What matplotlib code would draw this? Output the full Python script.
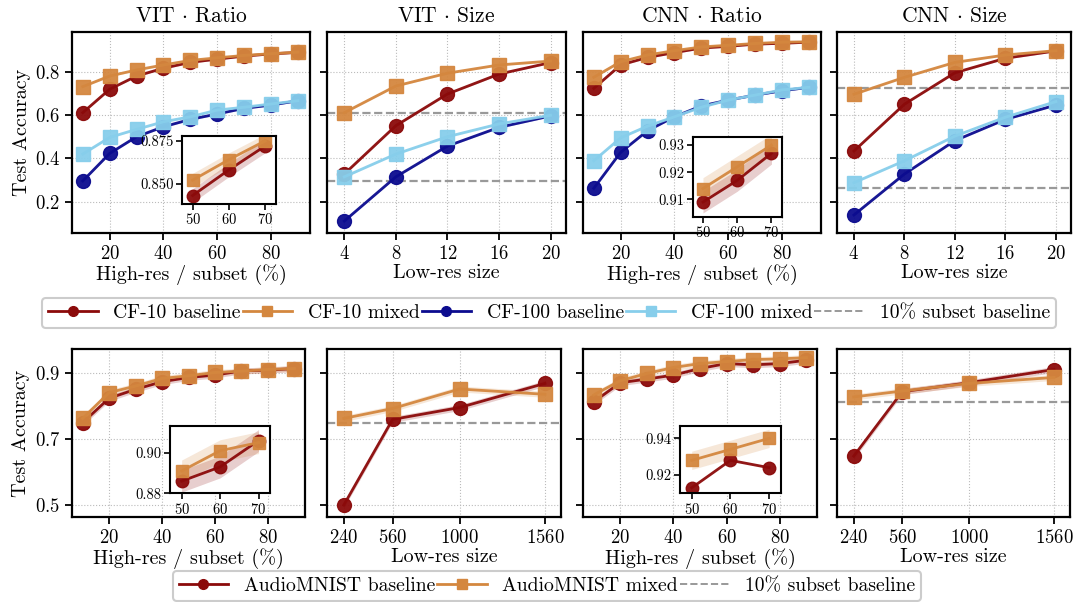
import numpy as np
import matplotlib
matplotlib.use("Agg")
import matplotlib.pyplot as plt
from matplotlib.lines import Line2D

plt.rcParams['font.family'] = ['cmr10', 'DejaVu Serif']
plt.rcParams['mathtext.fontset'] = 'cm'
plt.rcParams['axes.formatter.use_mathtext'] = True

# ---- data ----
ratio_x = [10, 20, 30, 40, 50, 60, 70, 80, 90]
size_x = [4, 8, 12, 16, 20]
audio_size_x = [240, 560, 1000, 1560]

# VIT ratio
vit_r_c10_base = [0.611, 0.719, 0.780, 0.816, 0.843, 0.858, 0.872, 0.882, 0.889]
vit_r_c10_mix = [0.731, 0.780, 0.808, 0.831, 0.852, 0.864, 0.875, 0.883, 0.890]
vit_r_c100_base = [0.296, 0.423, 0.500, 0.546, 0.580, 0.605, 0.631, 0.646, 0.666]
vit_r_c100_mix = [0.420, 0.497, 0.534, 0.569, 0.592, 0.623, 0.636, 0.651, 0.666]
# VIT size
vit_s_c10_base = [0.328, 0.551, 0.697, 0.789, 0.842]
vit_s_c10_mix = [0.611, 0.734, 0.793, 0.831, 0.849]
vit_s_c100_base = [0.111, 0.315, 0.457, 0.543, 0.596]
vit_s_c100_mix = [0.315, 0.420, 0.500, 0.559, 0.599]
# CNN ratio
cnn_r_c10_base = [0.723, 0.831, 0.866, 0.888, 0.909, 0.917, 0.927, 0.931, 0.936]
cnn_r_c10_mix = [0.774, 0.846, 0.877, 0.897, 0.914, 0.922, 0.930, 0.936, 0.938]
cnn_r_c100_base = [0.262, 0.428, 0.528, 0.592, 0.642, 0.669, 0.692, 0.712, 0.728]
cnn_r_c100_mix = [0.389, 0.495, 0.549, 0.592, 0.636, 0.669, 0.692, 0.716, 0.728]
# CNN size
cnn_s_c10_base = [0.434, 0.650, 0.795, 0.862, 0.896]
cnn_s_c10_mix = [0.696, 0.774, 0.843, 0.877, 0.897]
cnn_s_c100_base = [0.139, 0.328, 0.482, 0.580, 0.646]
cnn_s_c100_mix = [0.288, 0.389, 0.503, 0.590, 0.662]

# AudioMNIST
aud_r1_base = [0.749, 0.823, 0.850, 0.873, 0.886, 0.893, 0.906, 0.908, 0.913]
aud_r1_mix = [0.762, 0.840, 0.860, 0.883, 0.891, 0.901, 0.905, 0.910, 0.913]
aud_s1_base = [0.500, 0.759, 0.795, 0.868]
aud_s1_mix = [0.762, 0.792, 0.851, 0.835]
aud_r2_base = [0.812, 0.870, 0.881, 0.893, 0.913, 0.928, 0.924, 0.928, 0.938]
aud_r2_mix = [0.833, 0.876, 0.898, 0.916, 0.928, 0.934, 0.940, 0.942, 0.946]
aud_s2_base = [0.648, 0.843, 0.870, 0.910]
aud_s2_mix = [0.827, 0.845, 0.868, 0.886]

cifar_std = 0.004
audio_std = 0.009

C_RED = '#8b0a0a'
C_ORG = '#d4873f'
C_NAVY = '#0c0c8f'
C_SKY = '#87ceeb'

fig = plt.figure(figsize=(10.78, 6.02), dpi=100)
W, H = 1078, 602


def box(l, t, r, b):
    return [l / W, 1 - b / H, (r - l) / W, (b - t) / H]


def series(ax, x, y, color, marker, std, ms=10):
    y = np.array(y)
    ax.fill_between(x, y - std, y + std, color=color, alpha=0.2, lw=0)
    ax.plot(x, y, color=color, marker=marker, ms=ms, lw=2, alpha=0.95)


def style(ax, xticks, xlabel, yticks, ylim, ylabel=None, showy=True):
    ax.set_xticks(xticks)
    ax.set_yticks(yticks)
    ax.set_ylim(*ylim)
    ax.grid(True, ls=':', lw=0.8, color='#bbbbbb')
    ax.set_axisbelow(True)
    ax.tick_params(labelsize=13.5, length=5, width=1.3, direction='out')
    for s in ax.spines.values():
        s.set_linewidth(1.6)
    ax.set_xlabel(xlabel, fontsize=14.5, labelpad=1)
    if ylabel:
        ax.set_ylabel(ylabel, fontsize=14.5, labelpad=3)
    if not showy:
        ax.tick_params(labelleft=False)


def inset(ax, rect, xs, ys_list, ylim, yticks, fmt):
    ia = ax.inset_axes(rect)
    for y, c, m, std in ys_list:
        y = np.array(y)
        ia.fill_between(xs, y - std, y + std, color=c, alpha=0.2, lw=0)
        ia.plot(xs, y, color=c, marker=m, ms=9, lw=2, alpha=0.95)
    ia.set_xlim(47, 73)
    ia.set_ylim(*ylim)
    ia.set_xticks([50, 60, 70])
    ia.set_yticks(yticks)
    ia.set_yticklabels([fmt.format(v) for v in yticks])
    ia.tick_params(labelsize=10.5, length=4, width=1.2, pad=2)
    for s in ia.spines.values():
        s.set_linewidth(1.5)
    return ia


top_boxes = [(72, 32, 310, 233), (327, 32, 566, 233), (583, 32, 821, 233), (837, 32, 1071, 233)]
bot_boxes = [(72, 349, 305, 517), (327, 349, 561, 517), (583, 349, 817, 517), (837, 349, 1070, 517)]

top_ylim = (0.056, 0.983)
top_yt = [0.2, 0.4, 0.6, 0.8]
titles = [r'VIT $\cdot$ Ratio', r'VIT $\cdot$ Size', r'CNN $\cdot$ Ratio', r'CNN $\cdot$ Size']

top_data = [
    (ratio_x, vit_r_c10_base, vit_r_c10_mix, vit_r_c100_base, vit_r_c100_mix),
    (size_x, vit_s_c10_base, vit_s_c10_mix, vit_s_c100_base, vit_s_c100_mix),
    (ratio_x, cnn_r_c10_base, cnn_r_c10_mix, cnn_r_c100_base, cnn_r_c100_mix),
    (size_x, cnn_s_c10_base, cnn_s_c10_mix, cnn_s_c100_base, cnn_s_c100_mix),
]

for i, (bx, d) in enumerate(zip(top_boxes, top_data)):
    ax = fig.add_axes(box(*bx))
    x, b10, m10, b100, m100 = d
    series(ax, x, b10, C_RED, 'o', cifar_std)
    series(ax, x, m10, C_ORG, 's', cifar_std)
    series(ax, x, b100, C_NAVY, 'o', cifar_std)
    series(ax, x, m100, C_SKY, 's', cifar_std)
    ax.set_title(titles[i], fontsize=15.5, pad=7)
    if x is ratio_x:
        ax.set_xlim(6, 94.5)
        style(ax, [20, 40, 60, 80], 'High-res / subset (%)', top_yt, top_ylim,
              'Test Accuracy' if i == 0 else None, showy=(i == 0))
    else:
        ax.set_xlim(2.66, 21.2)
        # 10% subset baselines from the matching ratio panel
        ref = top_data[i - 1]
        ax.axhline(ref[1][0], color='#999999', ls='--', lw=1.6, zorder=1)
        ax.axhline(ref[3][0], color='#999999', ls='--', lw=1.6, zorder=1)
        style(ax, size_x, 'Low-res size', top_yt, top_ylim, showy=False)
    if i == 0:
        inset(ax, [0.461, 0.144, 0.396, 0.338], [50, 60, 70],
              [(b10[4:7], C_RED, 'o', cifar_std), (m10[4:7], C_ORG, 's', cifar_std)],
              (0.838, 0.8778), [0.850, 0.875], '{:.3f}')
    if i == 2:
        inset(ax, [0.461, 0.081, 0.374, 0.398], [50, 60, 70],
              [(b10[4:7], C_RED, 'o', cifar_std), (m10[4:7], C_ORG, 's', cifar_std)],
              (0.9036, 0.9331), [0.91, 0.92, 0.93], '{:.2f}')

bot_ylim = (0.464, 0.972)
bot_yt = [0.5, 0.7, 0.9]
bot_data = [
    (ratio_x, aud_r1_base, aud_r1_mix),
    (audio_size_x, aud_s1_base, aud_s1_mix),
    (ratio_x, aud_r2_base, aud_r2_mix),
    (audio_size_x, aud_s2_base, aud_s2_mix),
]

for i, (bx, d) in enumerate(zip(bot_boxes, bot_data)):
    ax = fig.add_axes(box(*bx))
    x, b, m = d
    series(ax, x, b, C_RED, 'o', audio_std)
    series(ax, x, m, C_ORG, 's', audio_std)
    if x is ratio_x:
        ax.set_xlim(6, 94)
        style(ax, [20, 40, 60, 80], 'High-res / subset (%)', bot_yt, bot_ylim,
              'Test Accuracy' if i == 0 else None, showy=(i == 0))
    else:
        ax.set_xlim(130, 1665)
        ax.axhline(bot_data[i - 1][1][0], color='#999999', ls='--', lw=1.6, zorder=1)
        style(ax, audio_size_x, 'Low-res size', bot_yt, bot_ylim, showy=False)
    if i == 0:
        inset(ax, [0.421, 0.141, 0.429, 0.402], [50, 60, 70],
              [(b[4:7], C_RED, 'o', audio_std * 0.6), (m[4:7], C_ORG, 's', audio_std * 0.6)],
              (0.880, 0.9133), [0.88, 0.90], '{:.2f}')
    if i == 2:
        inset(ax, [0.415, 0.141, 0.430, 0.40], [50, 60, 70],
              [(b[4:7], C_RED, 'o', 0.0), (m[4:7], C_ORG, 's', 0.005)],
              (0.910, 0.9467), [0.92, 0.94], '{:.2f}')

# legends
h_top = [
    Line2D([], [], color=C_RED, marker='o', ms=7, lw=2),
    Line2D([], [], color=C_ORG, marker='s', ms=7, lw=2),
    Line2D([], [], color=C_NAVY, marker='o', ms=7, lw=2),
    Line2D([], [], color=C_SKY, marker='s', ms=7, lw=2),
    Line2D([], [], color='#999999', ls='--', lw=1.4),
]
fig.legend(h_top, ['CF-10 baseline', 'CF-10 mixed', 'CF-100 baseline', 'CF-100 mixed',
                   '10% subset baseline'],
           loc='center', bbox_to_anchor=(549 / W, 1 - 313 / H), ncol=5, fontsize=14.2,
           handlelength=2.5, columnspacing=0.1, handletextpad=0.8, borderpad=0.3,
           fancybox=True, edgecolor='#cccccc', framealpha=1).get_frame().set_linewidth(1.5)

h_bot = [
    Line2D([], [], color=C_RED, marker='o', ms=7, lw=2),
    Line2D([], [], color=C_ORG, marker='s', ms=7, lw=2),
    Line2D([], [], color='#999999', ls='--', lw=1.4),
]
fig.legend(h_bot, ['AudioMNIST baseline', 'AudioMNIST mixed', '10% subset baseline'],
           loc='center', bbox_to_anchor=(547 / W, 1 - 586 / H), ncol=3, fontsize=14.2,
           handlelength=2.5, columnspacing=0.1, handletextpad=0.8, borderpad=0.3,
           fancybox=True, edgecolor='#cccccc', framealpha=1).get_frame().set_linewidth(1.5)

fig.savefig('out.png', dpi=100)
